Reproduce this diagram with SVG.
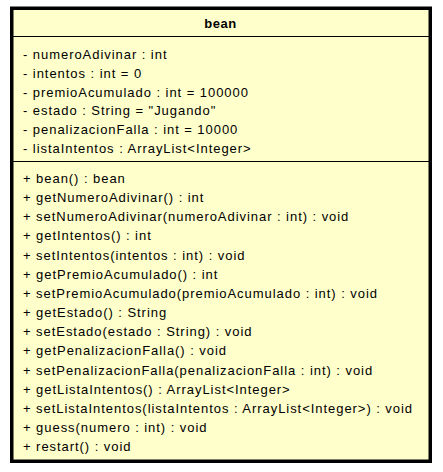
<svg xmlns="http://www.w3.org/2000/svg" width="443" height="472" viewBox="0 0 443 472">
<style>
.box{fill:#FFFFCC;stroke:#000;stroke-width:3.5}
.sep{stroke:#000;stroke-width:1}
.t{font-family:"Liberation Sans",Arial,sans-serif;font-size:13px;letter-spacing:0.95px;fill:#000}
.title{font-family:"Liberation Sans",Arial,sans-serif;font-size:13px;font-weight:bold;letter-spacing:0.6px;fill:#000}
</style>
<rect width="443" height="472" fill="#fff"/>
<g id="bean">
<rect class="box" x="11.75" y="8.25" width="418.5" height="453"/>
<line class="sep" x1="12" y1="36.5" x2="430" y2="36.5"/>
<line class="sep" x1="12" y1="161.5" x2="430" y2="161.5"/>
<text class="title" x="220.5" y="28" text-anchor="middle">bean</text>
<text class="t" x="23" y="59">- numeroAdivinar : int</text>
<text class="t" x="23" y="77.8">- intentos : int = 0</text>
<text class="t" x="23" y="96.6">- premioAcumulado : int = 100000</text>
<text class="t" x="23" y="115.4">- estado : String = "Jugando"</text>
<text class="t" x="23" y="134.2">- penalizacionFalla : int = 10000</text>
<text class="t" x="23" y="153">- listaIntentos : ArrayList&lt;Integer&gt;</text>
<text class="t" x="23" y="183">+ bean() : bean</text>
<text class="t" x="23" y="202.1">+ getNumeroAdivinar() : int</text>
<text class="t" x="23" y="221.3">+ setNumeroAdivinar(numeroAdivinar : int) : void</text>
<text class="t" x="23" y="240.4">+ getIntentos() : int</text>
<text class="t" x="23" y="259.6">+ setIntentos(intentos : int) : void</text>
<text class="t" x="23" y="278.7">+ getPremioAcumulado() : int</text>
<text class="t" x="23" y="297.9">+ setPremioAcumulado(premioAcumulado : int) : void</text>
<text class="t" x="23" y="317">+ getEstado() : String</text>
<text class="t" x="23" y="336.2">+ setEstado(estado : String) : void</text>
<text class="t" x="23" y="355.3">+ getPenalizacionFalla() : void</text>
<text class="t" x="23" y="374.5">+ setPenalizacionFalla(penalizacionFalla : int) : void</text>
<text class="t" x="23" y="393.6">+ getListaIntentos() : ArrayList&lt;Integer&gt;</text>
<text class="t" x="23" y="412.8">+ setListaIntentos(listaIntentos : ArrayList&lt;Integer&gt;) : void</text>
<text class="t" x="23" y="431.9">+ guess(numero : int) : void</text>
<text class="t" x="23" y="451">+ restart() : void</text>
</g>
<g id="connectors"/>
</svg>
